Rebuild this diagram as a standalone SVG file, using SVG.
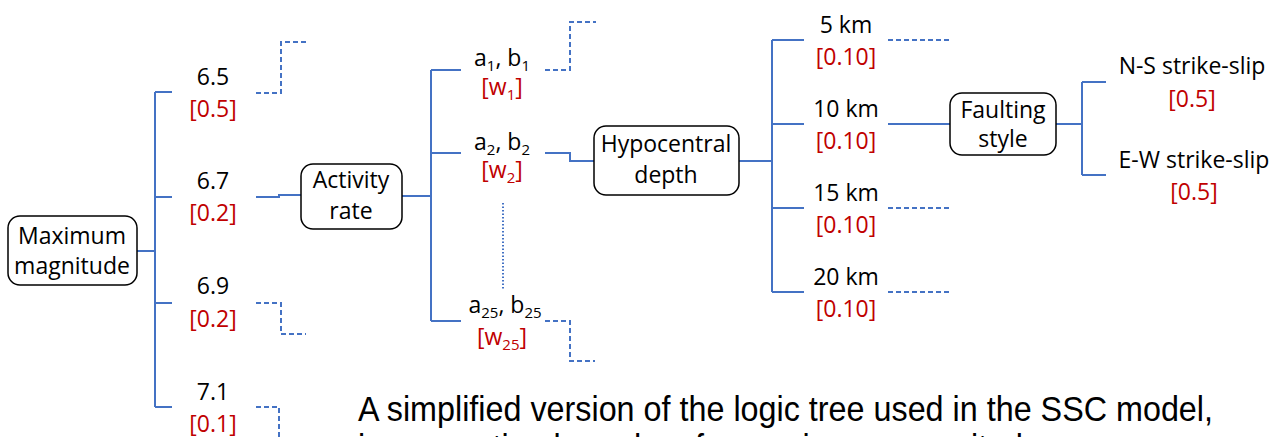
<svg xmlns="http://www.w3.org/2000/svg" width="1281" height="437" viewBox="0 0 1281 437">
<style>
.bg{fill:#ffffff}
.box{fill:#ffffff;stroke:#000000;stroke-width:1.5}
.t{font-family:"Open Sans","Noto Sans",sans-serif;font-size:23px;fill:#000000;text-anchor:middle}
.w{font-family:"Open Sans","Noto Sans",sans-serif;font-size:23px;fill:#C00000;text-anchor:middle}
.sub{font-size:15px}
.ln{fill:none;stroke:#4472C4;stroke-width:2}
.dash{fill:none;stroke:#4472C4;stroke-width:2;stroke-dasharray:5 3}
.dot{fill:none;stroke:#4472C4;stroke-width:2;stroke-dasharray:1.5 2}
.cap{font-family:"Liberation Sans",Arial,sans-serif;font-size:35px;fill:#000000}
</style>
<rect class="bg" x="0" y="0" width="1281" height="437"/>

<g id="connectors">
  <!-- Maximum magnitude -->
  <path class="ln" d="M137,251 H155 M155,92 V407 M155,92 H172 M155,197 H172 M155,303 H172 M155,407 H172"/>
  <path class="dash" d="M256,93 H281 V42 H306"/>
  <path class="ln" d="M256,197 H279 V195 H302"/>
  <path class="dash" d="M256,303 H281 V334 H306"/>
  <path class="dash" d="M256,407 H279 V437"/>
  <!-- Activity rate -->
  <path class="ln" d="M402,196 H431 M431,70 V321 M431,70 H461 M431,153 H461 M431,321 H461"/>
  <path class="dash" d="M545,70 H570 V22 H596"/>
  <path class="ln" d="M545,153 H570 V161 H595"/>
  <path class="dash" d="M545,321 H570 V361 H595"/>
  <path class="dot" d="M503,203 V289"/>
  <!-- Hypocentral depth -->
  <path class="ln" d="M739,161 H772 M772,40 V292 M772,40 H804 M772,124 H804 M772,208 H804 M772,292 H804"/>
  <path class="dash" d="M888,40 H951"/>
  <path class="ln" d="M888,124 H950"/>
  <path class="dash" d="M888,208 H951"/>
  <path class="dash" d="M888,292 H951"/>
  <!-- Faulting style -->
  <path class="ln" d="M1056,124 H1082 M1082,82 V175 M1082,82 H1106 M1082,175 H1106"/>
</g>

<g id="node-maximum-magnitude">
  <rect class="box" x="8" y="216" width="129" height="69" rx="12"/>
  <text class="t" x="72" y="244">Maximum</text>
  <text class="t" x="72" y="274">magnitude</text>
</g>

<g id="mag-6.5"><text class="t" x="213" y="85">6.5</text><text class="w" x="213" y="117">[0.5]</text></g>
<g id="mag-6.7"><text class="t" x="213" y="189">6.7</text><text class="w" x="213" y="221">[0.2]</text></g>
<g id="mag-6.9"><text class="t" x="213" y="294">6.9</text><text class="w" x="213" y="327">[0.2]</text></g>
<g id="mag-7.1"><text class="t" x="213" y="400">7.1</text><text class="w" x="213" y="432">[0.1]</text></g>

<g id="node-activity-rate">
  <rect class="box" x="301" y="164" width="101" height="65" rx="12"/>
  <text class="t" x="351" y="188">Activity</text>
  <text class="t" x="351" y="219">rate</text>
</g>

<g id="ab-1">
  <text class="t" x="502" y="66">a<tspan class="sub" dy="5">1</tspan><tspan dy="-5">, b</tspan><tspan class="sub" dy="5">1</tspan></text>
  <text class="w" x="502" y="95">[w<tspan class="sub" dy="5">1</tspan><tspan dy="-5">]</tspan></text>
</g>
<g id="ab-2">
  <text class="t" x="502" y="150">a<tspan class="sub" dy="5">2</tspan><tspan dy="-5">, b</tspan><tspan class="sub" dy="5">2</tspan></text>
  <text class="w" x="502" y="178">[w<tspan class="sub" dy="5">2</tspan><tspan dy="-5">]</tspan></text>
</g>
<g id="ab-25">
  <text class="t" x="505" y="313">a<tspan class="sub" dy="5">25</tspan><tspan dy="-5">, b</tspan><tspan class="sub" dy="5">25</tspan></text>
  <text class="w" x="502" y="345">[w<tspan class="sub" dy="5">25</tspan><tspan dy="-5">]</tspan></text>
</g>

<g id="node-hypocentral-depth">
  <rect class="box" x="594" y="126" width="145" height="69" rx="12"/>
  <text class="t" x="666" y="152">Hypocentral</text>
  <text class="t" x="666" y="183">depth</text>
</g>

<g id="depth-5"><text class="t" x="846" y="33">5 km</text><text class="w" x="846" y="65">[0.10]</text></g>
<g id="depth-10"><text class="t" x="846" y="117">10 km</text><text class="w" x="846" y="149">[0.10]</text></g>
<g id="depth-15"><text class="t" x="846" y="201">15 km</text><text class="w" x="846" y="233">[0.10]</text></g>
<g id="depth-20"><text class="t" x="846" y="285">20 km</text><text class="w" x="846" y="317">[0.10]</text></g>

<g id="node-faulting-style">
  <rect class="box" x="950" y="93" width="106" height="62" rx="12"/>
  <text class="t" x="1003" y="118">Faulting</text>
  <text class="t" x="1003" y="147">style</text>
</g>

<g id="fault-ns"><text class="t" x="1192" y="74">N-S strike-slip</text><text class="w" x="1192" y="107">[0.5]</text></g>
<g id="fault-ew"><text class="t" x="1194" y="168">E-W strike-slip</text><text class="w" x="1194" y="200">[0.5]</text></g>

<g id="caption">
  <text class="cap" x="358" y="421" textLength="855" lengthAdjust="spacingAndGlyphs">A simplified version of the logic tree used in the SSC model,</text>
  <text class="cap" x="358" y="459" textLength="683" lengthAdjust="spacingAndGlyphs">incorporating branches for maximum magnitude</text>
</g>
</svg>
